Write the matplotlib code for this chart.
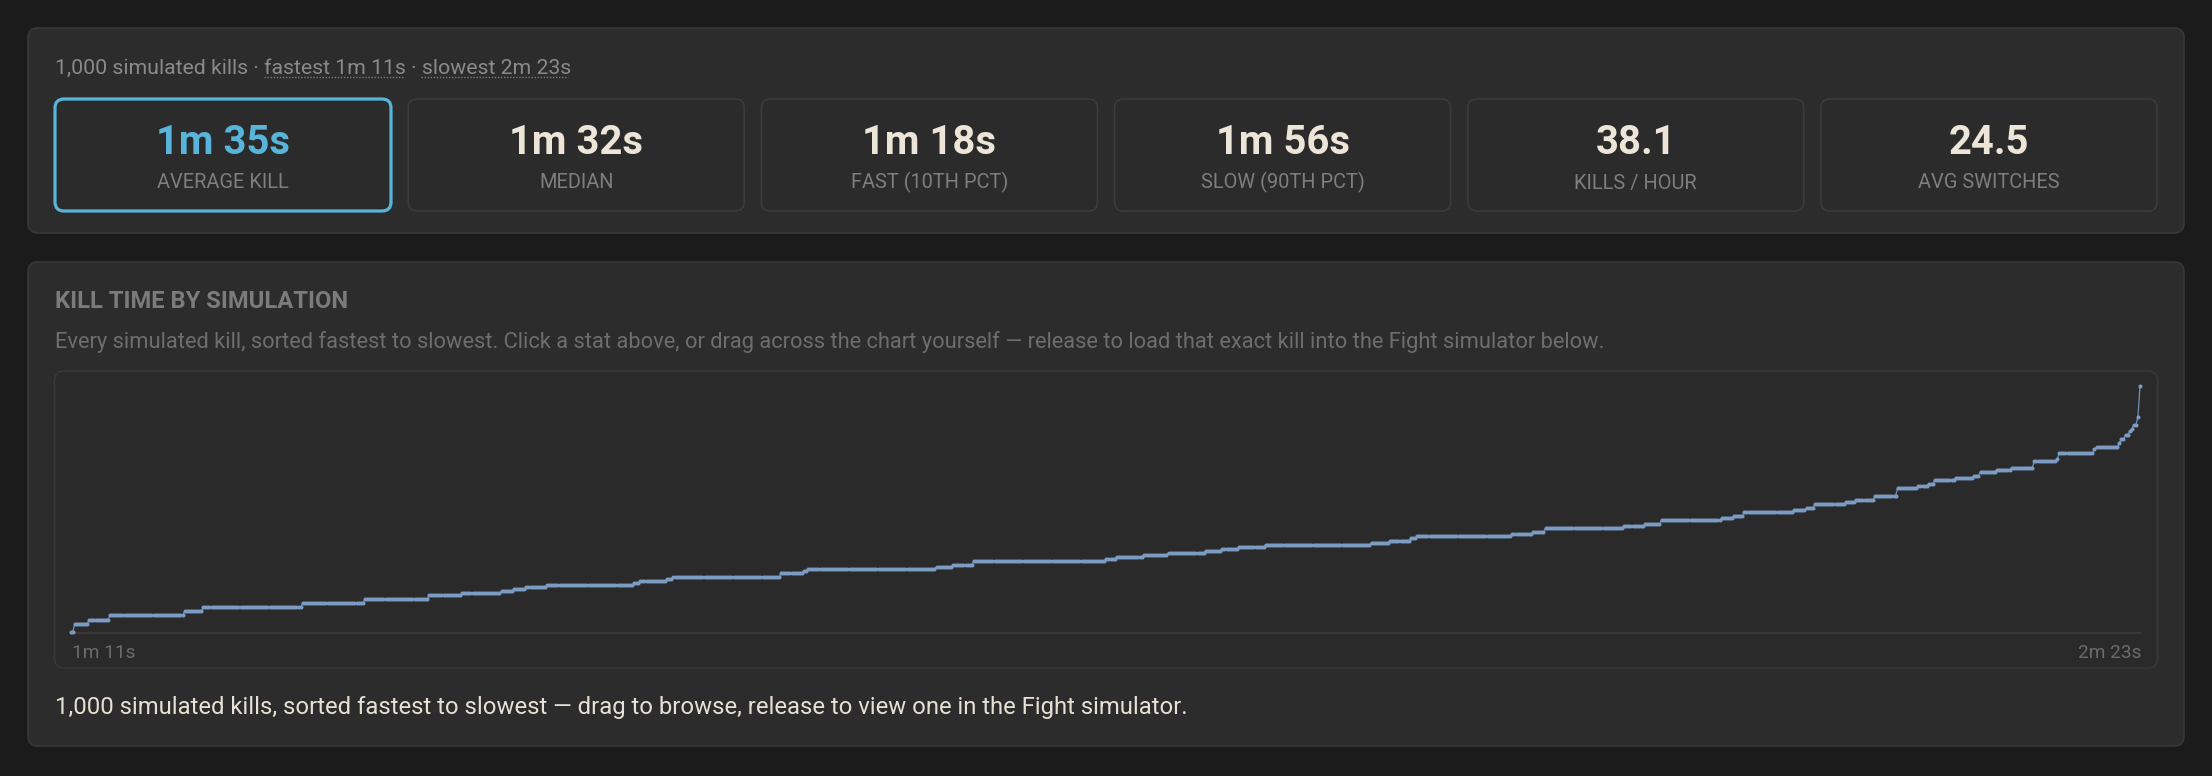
import numpy as np
import matplotlib
matplotlib.use("Agg")
import matplotlib.pyplot as plt
from matplotlib.patches import FancyBboxPatch
from matplotlib.lines import Line2D

# ---------------- data ----------------
# sorted kill times, stored as run-length steps: kill time (s) and how many kills share it
step_seconds = [70.8, 73.2, 74.4, 75.6, 76.8, 78.0, 79.2, 80.4, 81.6, 82.2,
                82.8, 83.4, 84.0, 84.6, 85.2, 85.8, 86.4, 87.0, 88.2, 88.8,
                89.4, 90.0, 90.6, 91.8, 92.4, 93.0, 93.6, 94.2, 94.8, 95.4,
                96.0, 96.6, 97.2, 97.8, 98.4, 99.0, 99.6, 100.2, 101.4, 102.0,
                102.6, 103.8, 104.4, 105.0, 106.2, 106.8, 107.4, 108.6, 109.2, 109.8,
                111.0, 113.4, 114.0, 114.6, 115.8, 116.4, 117.0, 118.2, 118.8, 119.4,
                121.2, 121.8, 123.6, 124.8, 125.4, 126.6, 127.8, 129.0, 130.2, 130.8,
                132.0, 134.4, 143.4]
step_counts = [2, 7, 10, 36, 9, 48, 30, 31, 16, 19,
               6, 6, 10, 42, 3, 13, 3, 52, 11, 2,
               62, 8, 10, 64, 5, 13, 12, 18, 8, 8,
               13, 51, 9, 10, 3, 46, 10, 6, 38, 10,
               8, 29, 6, 5, 24, 6, 4, 15, 5, 9,
               11, 10, 5, 3, 10, 9, 3, 8, 7, 11,
               11, 1, 17, 1, 11, 1, 2, 2, 1, 1,
               2, 1, 1]

stat_values = ["1m 35s", "1m 32s", "1m 18s", "1m 56s", "38.1", "24.5"]
stat_labels = ["AVERAGE KILL", "MEDIAN", "FAST (10TH PCT)", "SLOW (90TH PCT)",
               "KILLS / HOUR", "AVG SWITCHES"]
header_text = "1,000 simulated kills \u00b7 fastest 1m 11s \u00b7 slowest 2m 23s"
title_text = "KILL TIME BY SIMULATION"
desc_text = ("Every simulated kill, sorted fastest to slowest. Click a stat above, or drag across "
             "the chart yourself \u2014 release to load that exact kill into the Fight simulator below.")
caption_text = ("1,000 simulated kills, sorted fastest to slowest \u2014 drag to browse, "
                "release to view one in the Fight simulator.")
range_labels = ["1m 11s", "2m 23s"]

kill_times = np.repeat(step_seconds, step_counts)
kill_index = np.arange(len(kill_times))

# ---------------- style ----------------
PAGE = "#1b1b1b"
PANEL = "#2c2c2c"
PANEL_EDGE = "#383838"
CARD = "#2b2b2b"
CARD_EDGE = "#3b3b3b"
BLUE = "#58b4d9"
CREAM = "#ece5d8"
LABEL = "#7e7e7e"
HEADER = "#8a8a8a"
TITLE = "#7b7b7b"
DESC = "#6d6d6d"
TICK = "#6b6b6b"
CAPTION = "#e7e1d5"
LINE = "#7c9cc4"
LINE_THIN = "#6b88ac"

W, H = 2212, 776
plt.rcParams['font.family'] = ['Roboto', 'DejaVu Sans']

fig = plt.figure(figsize=(W / 100, H / 100), dpi=100, facecolor=PAGE)
bg = fig.add_axes([0, 0, 1, 1])
bg.set_xlim(0, W)
bg.set_ylim(H, 0)
bg.axis('off')
bg.set_facecolor(PAGE)

renderer = fig.canvas.get_renderer()


def rbox(x0, y0, x1, y1, r, fc, ec, lw):
    p = FancyBboxPatch((x0, y0), x1 - x0, y1 - y0,
                       boxstyle=f"round,pad=0,rounding_size={r}",
                       fc=fc, ec=ec, lw=lw, transform=bg.transData, zorder=1)
    bg.add_patch(p)


def txt(x, y, s, width=None, size=12, **kw):
    t = bg.text(x, y, s, fontsize=size, va='baseline', zorder=5, **kw)
    if width is not None:
        bb = t.get_window_extent(renderer)
        t.set_fontsize(size * width / bb.width)
    return t


# panels
rbox(28, 28, 2184, 233, 10, PANEL, PANEL_EDGE, 1.2)
rbox(28, 262, 2184, 746, 10, PANEL, PANEL_EDGE, 1.2)

# header line
txt(55, 74, header_text, width=515, color=HEADER)
for ux0, ux1 in [(264, 403), (421, 568)]:
    bg.add_line(Line2D([ux0, ux1], [77, 77], color="#7a7a7a", lw=1.0,
                       linestyle=(0, (1, 1.2)), zorder=6))

# stat cards
card_w, card_step = 336, 353.2
vt = None
lt = None
for i, (v, lab) in enumerate(zip(stat_values, stat_labels)):
    x0 = 55 + i * card_step
    x1 = x0 + card_w
    cx = (x0 + x1) / 2
    if i == 0:
        rbox(x0, 99, x1, 211, 9, CARD, BLUE, 2.3)
    else:
        rbox(x0, 99, x1, 211, 9, CARD, CARD_EDGE, 1.2)
    col = BLUE if i == 0 else CREAM
    if vt is None:
        vt = txt(cx, 154, v, width=134, size=20, ha='center', color=col, fontweight='bold')
        vsize = vt.get_fontsize()
    else:
        txt(cx, 154, v, size=vsize, ha='center', color=col, fontweight='bold')
    if lt is None:
        lt = txt(cx, 188.5, lab, width=131, size=12, ha='center', color=LABEL)
        lsize = lt.get_fontsize()
    else:
        txt(cx, 188.5, lab, size=lsize, ha='center', color=LABEL)

# second panel texts
txt(55, 308.3, title_text, width=293, size=14, color=TITLE, fontweight='bold')
txt(55, 348.3, desc_text, width=1547, size=12, color=DESC)

# chart container
rbox(54.5, 371, 2157.5, 668, 10, "#2a2a2a", PANEL_EDGE, 1.2)

# range labels
t2 = txt(2141, 658.3, range_labels[1], width=63.6, size=12, ha='right', color=TICK)
txt(72.5, 658.3, range_labels[0], size=t2.get_fontsize(), ha='left', color=TICK)

# caption
txt(55, 714, caption_text, width=1140, size=14, color=CAPTION)

# the chart itself
px_left, px_right = 70.7, 2140.0
px_top, px_bottom = 386.5, 632.5
ax = fig.add_axes([px_left / W, 1 - px_bottom / H,
                   (px_right - px_left) / W, (px_bottom - px_top) / H])
ax.patch.set_alpha(0)
ymin_val = kill_times.min()
ymax_val = kill_times.max()
pps = (631.7 - px_top) / (ymax_val - ymin_val)
ax.set_ylim(ymin_val - (px_bottom - 631.7) / pps, ymax_val)
ax.set_xlim(0, len(kill_times) - 1)
ax.plot(kill_index, kill_times, color=LINE_THIN, lw=1.0, zorder=3, clip_on=False)
ax.plot(kill_index, kill_times, linestyle='none', marker='o', markersize=2.9,
        markeredgewidth=0, color=LINE, zorder=4, clip_on=False)
for s in ['top', 'left', 'right']:
    ax.spines[s].set_visible(False)
ax.spines['bottom'].set_color("#3a3a3a")
ax.spines['bottom'].set_linewidth(1.3)
ax.set_xticks([])
ax.set_yticks([])

fig.savefig("out.png", dpi=100, facecolor=PAGE)
